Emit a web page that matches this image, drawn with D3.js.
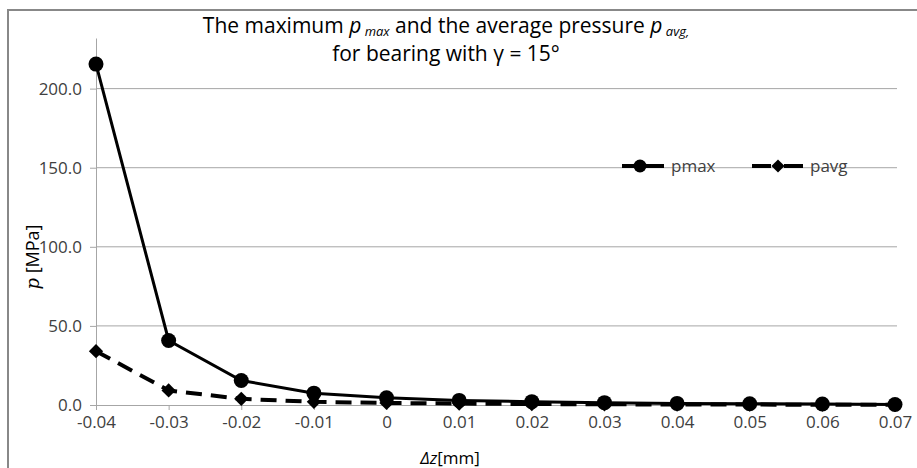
<!DOCTYPE html>
<html>
<head>
<meta charset="utf-8">
<script src="https://cdn.jsdelivr.net/npm/d3@7"></script>
<style>
  body { margin: 0; background: #fff; }
  text { font-family: "Open Sans", sans-serif; }
</style>
</head>
<body>
<svg id="chart" width="917" height="468"></svg>
<script>
// data
const dz = ["-0.04", "-0.03", "-0.02", "-0.01", "0", "0.01", "0.02", "0.03", "0.04", "0.05", "0.06", "0.07"];
const pmax = [215.5, 40.8, 15.5, 7.5, 4.6, 2.9, 2.1, 1.5, 1.0, 0.8, 0.6, 0.3];
const pavg = [34.0, 9.2, 3.9, 2.0, 1.3, 0.9, 0.6, 0.45, 0.3, 0.25, 0.2, 0.1];
const yTicks = [0, 50, 100, 150, 200];

const svg = d3.select("#chart");

// outer border of the chart
svg.append("rect")
    .attr("x", 8).attr("y", 10)
    .attr("width", 920).attr("height", 470)
    .attr("fill", "none")
    .attr("stroke", "#888")
    .attr("stroke-width", 2);

const x = d3.scalePoint()
    .domain(dz)
    .range([96, 895]);

const y = d3.scaleLinear()
    .domain([0, 232])
    .range([405, 38]);

// gridlines
svg.append("g")
    .selectAll("line")
    .data(yTicks.slice(1))
    .enter()
    .append("line")
    .attr("x1", 96)
    .attr("x2", 897)
    .attr("y1", d => y(d))
    .attr("y2", d => y(d))
    .attr("stroke", "#a6a6a6")
    .attr("stroke-width", 1);

// y axis
const yAxis = svg.append("g")
    .attr("transform", "translate(96,0)")
    .call(d3.axisLeft(y).tickValues(yTicks).tickSize(6).tickSizeOuter(0).tickFormat(d3.format(".1f")));

// x axis
const xAxis = svg.append("g")
    .attr("transform", "translate(0,405)")
    .call(d3.axisBottom(x).tickSize(5).tickSizeOuter(0));

[yAxis, xAxis].forEach(a => {
    a.select(".domain").attr("stroke", "#a6a6a6");
    a.selectAll(".tick line").attr("stroke", "#a6a6a6");
    a.selectAll(".tick text")
        .attr("fill", "#404040")
        .attr("font-size", 17)
        .attr("font-family", "Open Sans, sans-serif");
});
yAxis.selectAll(".tick text").attr("x", -14);
xAxis.selectAll(".tick text").attr("y", 11);

// series
const line = d3.line()
    .x((d, i) => x(dz[i]))
    .y(d => y(d));

svg.append("path")
    .datum(pavg)
    .attr("d", line)
    .attr("fill", "none")
    .attr("stroke", "#000")
    .attr("stroke-width", 4)
    .attr("stroke-dasharray", "16,9");

svg.append("g")
    .selectAll("path")
    .data(pavg)
    .enter()
    .append("path")
    .attr("d", d3.symbol().type(d3.symbolDiamond2).size(130))
    .attr("transform", (d, i) => `translate(${x(dz[i])},${y(d)})`)
    .attr("fill", "#000");

svg.append("path")
    .datum(pmax)
    .attr("d", line)
    .attr("fill", "none")
    .attr("stroke", "#000")
    .attr("stroke-width", 3);

svg.append("g")
    .selectAll("circle")
    .data(pmax)
    .enter()
    .append("circle")
    .attr("cx", (d, i) => x(dz[i]))
    .attr("cy", d => y(d))
    .attr("r", 7.5)
    .attr("fill", "#000");

// legend
const legend = svg.append("g");
legend.append("line")
    .attr("x1", 622).attr("x2", 664).attr("y1", 166).attr("y2", 166)
    .attr("stroke", "#000").attr("stroke-width", 4);
legend.append("circle")
    .attr("cx", 640).attr("cy", 166).attr("r", 6.5).attr("fill", "#000");
legend.append("text")
    .attr("x", 671).attr("y", 172)
    .attr("font-size", 17).attr("fill", "#404040")
    .text("pmax");
legend.append("line")
    .attr("x1", 752).attr("x2", 803).attr("y1", 166).attr("y2", 166)
    .attr("stroke", "#000").attr("stroke-width", 4)
    .attr("stroke-dasharray", "19,13,19");
legend.append("path")
    .attr("d", d3.symbol().type(d3.symbolDiamond2).size(110))
    .attr("transform", "translate(778,166)")
    .attr("fill", "#000");
legend.append("text")
    .attr("x", 810).attr("y", 172)
    .attr("font-size", 17).attr("fill", "#404040")
    .text("pavg");

// title
const title = svg.append("text")
    .attr("text-anchor", "middle")
    .attr("font-size", 21)
    .attr("fill", "#000");
const t1 = title.append("tspan").attr("x", 446).attr("y", 33);
t1.append("tspan").text("The maximum ");
t1.append("tspan").attr("font-style", "italic").text("p");
t1.append("tspan").attr("font-style", "italic").attr("font-size", 13).attr("dy", 3).text(" max");
t1.append("tspan").attr("dy", -3).text("  and the average pressure ");
t1.append("tspan").attr("font-style", "italic").text("p");
t1.append("tspan").attr("font-style", "italic").attr("font-size", 13).attr("dy", 3).text(" avg,");
title.append("tspan").attr("x", 446).attr("y", 61).text("for bearing with γ = 15°");

// axis labels
const xl = svg.append("text")
    .attr("x", 450).attr("y", 464)
    .attr("text-anchor", "middle")
    .attr("font-size", 17)
    .attr("fill", "#000");
xl.append("tspan").attr("font-style", "italic").text("Δz");
xl.append("tspan").text("[mm]");

const yl = svg.append("text")
    .attr("transform", "translate(39,257) rotate(-90)")
    .attr("text-anchor", "middle")
    .attr("font-size", 18)
    .attr("fill", "#000");
yl.append("tspan").attr("font-family", "DejaVu Serif, serif").attr("font-style", "italic").text("p");
yl.append("tspan").text(" [MPa]");
</script>
</body>
</html>
